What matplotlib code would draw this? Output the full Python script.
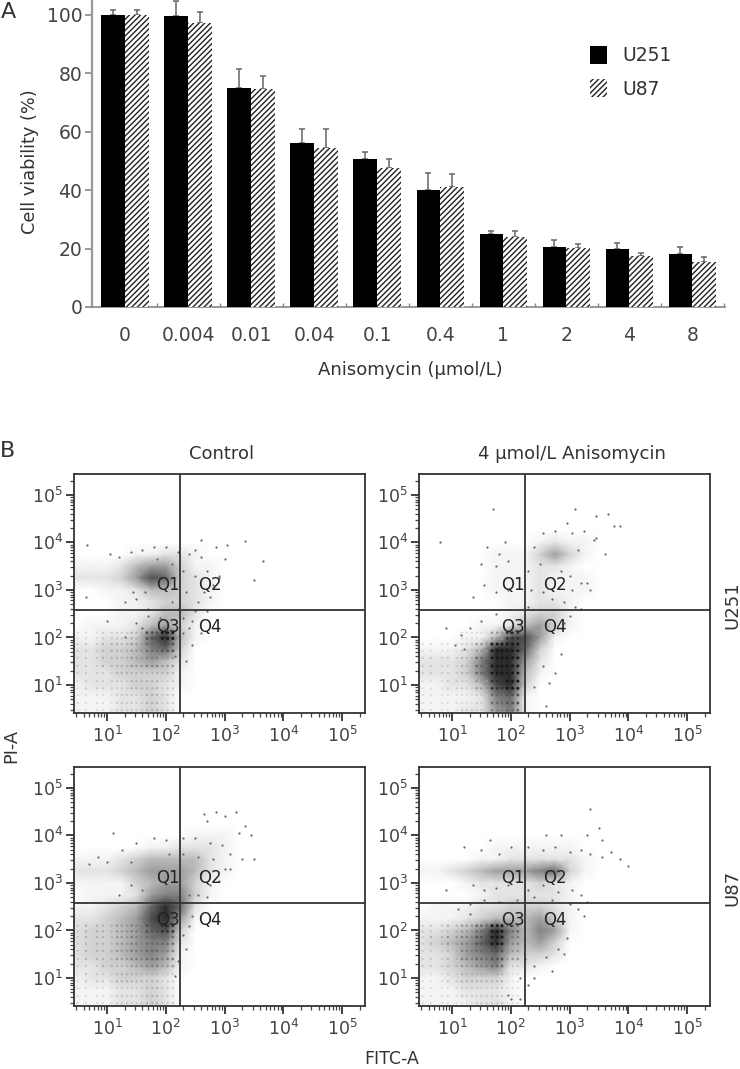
import numpy as np
import matplotlib
matplotlib.use("Agg")
import matplotlib.pyplot as plt
from matplotlib.ticker import LogLocator, FixedLocator, NullFormatter, FuncFormatter

plt.rcParams['font.family'] = ['DejaVu Sans']
plt.rcParams['mathtext.default'] = 'regular'
plt.rcParams['hatch.linewidth'] = 1.0

# ---------- panel A data ----------
doses = ['0', '0.004', '0.01', '0.04', '0.1', '0.4', '1', '2', '4', '8']
u251_mean = [100, 99.5, 75, 56, 50.5, 40, 25, 20.5, 20, 18]
u251_top = [101.5, 104.8, 81.5, 61, 53, 46, 26, 23, 22, 20.5]
u87_mean = [100, 97, 74.5, 54.5, 47.5, 41, 24, 20.3, 17.3, 15.5]
u87_top = [101.5, 101, 79, 61, 50.5, 45.5, 26, 21.5, 18.5, 17]
yticks_a = [0, 20, 40, 60, 80, 100]

# ---------- panel B data: visually read event density (0-9) ----------
# columns: log10(FITC) cells; rows: log10(PI) cells, from top to bottom
log_fitc = [0.44, 0.75, 1.0, 1.25, 1.5, 1.75, 2.0, 2.25, 2.5, 2.75, 3.0, 3.25, 3.5, 3.75]
log_pi = [4.5, 4.25, 4.0, 3.75, 3.5, 3.25, 3.0, 2.75, 2.5, 2.25, 2.0, 1.75, 1.5, 1.25, 1.0, 0.75, 0.41]

density_u251_control = [
    [0,0,0,0,0,0,0,0,0,0,0,0,0,0],
    [0,0,0,0,0,0,0,0,0,0,0,0,0,0],
    [0,0,0,0,0,0,0,0,0,0,0,0,0,0],
    [0,0,0,0,1,1,2,2,1,0,0,0,0,0],
    [1,1,1,2,4,5,5,3,1,1,0,0,0,0],
    [2,2,2,3,5,8,7,3,2,1,0,0,0,0],
    [0,0,1,1,2,4,4,3,2,1,0,0,0,0],
    [0,0,0,1,1,2,3,3,2,1,0,0,0,0],
    [0,0,0,1,1,2,4,4,2,0,0,0,0,0],
    [0,1,1,1,2,4,5,3,1,0,0,0,0,0],
    [1,1,2,2,3,7,9,4,1,0,0,0,0,0],
    [2,2,3,3,4,6,7,3,0,0,0,0,0,0],
    [2,2,3,3,4,5,4,2,0,0,0,0,0,0],
    [2,2,2,3,3,3,3,1,0,0,0,0,0,0],
    [1,2,2,2,3,3,2,1,0,0,0,0,0,0],
    [1,1,1,2,2,3,2,0,0,0,0,0,0,0],
    [1,1,1,2,2,3,2,0,0,0,0,0,0,0],
]
density_u251_drug = [
    [0,0,0,0,0,0,0,0,0,0,0,0,0,0],
    [0,0,0,0,0,0,0,0,0,0,0,0,0,0],
    [0,0,0,0,0,0,0,0,1,2,1,1,0,0],
    [0,0,0,0,0,1,1,1,3,5,3,1,0,0],
    [0,0,0,0,0,1,1,1,2,2,1,0,0,0],
    [0,0,0,0,0,1,1,1,2,1,1,1,0,0],
    [0,0,0,0,0,1,1,1,2,1,1,1,0,0],
    [0,0,0,0,0,0,1,1,2,2,1,0,0,0],
    [0,0,0,0,0,0,1,2,3,3,1,0,0,0],
    [0,0,0,0,1,1,2,4,5,3,1,0,0,0],
    [0,0,0,1,1,4,8,8,5,1,0,0,0,0],
    [1,1,1,2,4,9,9,7,3,0,0,0,0,0],
    [2,2,2,3,6,9,9,5,2,0,0,0,0,0],
    [2,2,2,3,6,9,9,4,1,0,0,0,0,0],
    [1,1,2,2,4,8,9,3,0,0,0,0,0,0],
    [1,1,1,1,2,6,7,1,0,0,0,0,0,0],
    [1,1,1,2,2,5,6,1,0,0,0,0,0,0],
]
density_u87_control = [
    [0,0,0,0,0,0,0,0,0,0,0,0,0,0],
    [0,0,0,0,0,0,0,0,0,0,0,0,0,0],
    [0,0,0,0,0,0,0,0,1,1,1,0,0,0],
    [0,0,0,0,0,1,1,2,2,2,1,0,0,0],
    [1,1,1,2,3,4,4,4,4,2,1,0,0,0],
    [2,2,2,3,4,5,5,5,4,2,1,0,0,0],
    [1,1,1,1,3,4,5,5,3,1,0,0,0,0],
    [0,1,1,1,2,5,6,6,3,1,0,0,0,0],
    [1,1,2,3,4,7,9,7,2,0,0,0,0,0],
    [2,2,3,4,5,8,9,5,1,0,0,0,0,0],
    [2,3,3,4,5,7,8,3,0,0,0,0,0,0],
    [2,3,3,4,5,6,6,2,0,0,0,0,0,0],
    [2,3,3,4,5,6,5,1,0,0,0,0,0,0],
    [2,2,3,3,4,5,4,1,0,0,0,0,0,0],
    [1,2,2,3,3,3,2,0,0,0,0,0,0,0],
    [1,1,1,2,2,3,2,0,0,0,0,0,0,0],
    [1,1,1,2,2,3,2,0,0,0,0,0,0,0],
]
density_u87_drug = [
    [0,0,0,0,0,0,0,0,0,0,0,0,0,0],
    [0,0,0,0,0,0,0,0,0,0,0,0,0,0],
    [0,0,0,0,0,0,0,0,0,0,0,0,0,0],
    [0,0,0,0,0,1,1,1,1,1,1,0,0,0],
    [0,0,0,0,1,1,2,2,2,2,2,1,0,0],
    [1,1,2,3,4,5,5,5,6,7,3,1,0,0],
    [0,0,0,1,2,2,2,2,3,2,1,0,0,0],
    [0,0,0,0,1,2,2,2,2,2,1,0,0,0],
    [0,1,1,1,2,2,3,3,3,2,1,0,0,0],
    [1,1,1,2,3,4,4,4,5,3,1,0,0,0],
    [2,2,3,4,6,9,6,4,6,5,1,0,0,0],
    [2,3,4,5,7,9,5,4,5,3,0,0,0,0],
    [2,2,3,5,6,7,4,3,3,2,0,0,0,0],
    [2,2,3,4,5,6,2,2,1,0,0,0,0,0],
    [1,1,2,3,3,3,1,0,0,0,0,0,0,0],
    [1,1,1,2,2,2,1,0,0,0,0,0,0,0],
    [1,1,1,1,2,2,1,0,0,0,0,0,0,0],
]

# discrete low-intensity acquisition channels seen in the plots (log10)
channel_fitc = [0.5, 0.64, 0.83, 0.93, 1.08, 1.17, 1.25, 1.34, 1.42, 1.5, 1.59, 1.68, 1.77, 1.85, 1.94, 2.03, 2.12]
channel_pi = [0.47, 0.62, 0.79, 0.93, 1.08, 1.25, 1.4, 1.57, 1.72, 1.86, 1.98, 2.1]

# individually read events (log10 FITC, log10 PI)
events_u251_control = [
    (0.66,3.95),(3.05,3.95),(3.35,4.02),(3.65,3.6),(3.5,3.2),(2.6,4.05),(2.5,3.85),(2.85,3.9),(3.0,3.65),
    (2.9,3.3),(2.65,2.95),(2.75,2.85),(2.45,1.85),(1.2,3.7),(1.4,3.8),(1.6,3.85),(1.8,3.9),(2.0,3.9),
    (2.2,3.8),(2.4,3.75),(2.6,3.7),(2.3,3.4),(2.5,3.3),(2.7,3.4),(2.9,3.25),(1.3,2.75),(1.5,2.8),(1.7,2.6),
    (2.1,2.75),(1.6,2.2),(1.9,2.4),(2.3,2.4),(2.5,2.55),(2.7,2.55),(2.4,2.2),(2.6,2.1),(2.15,1.6),(2.35,1.5),
    (1.5,2.3),(1.7,2.45),(1.3,2.0),(1.05,3.75),(2.55,2.75),(2.35,2.95),(2.8,3.1),(1.85,3.65),(2.1,3.55),
    (1.45,2.95),(1.65,2.95),(1.0,2.35),(0.65,2.85),(2.3,2.1),(2.45,2.35),(2.2,2.6),
]
events_u251_drug = [
    (0.8,4.0),(1.7,4.7),(1.9,4.0),(3.1,4.7),(3.45,4.55),(3.65,4.6),(3.75,4.35),(3.85,4.35),(3.45,4.1),(3.6,3.75),
    (3.05,3.0),(3.2,3.15),(3.35,3.0),(0.9,2.2),(1.2,1.75),(2.75,1.25),(3.3,3.15),(3.42,4.05),(1.6,3.9),(1.8,3.75),
    (1.5,3.55),(1.75,3.5),(1.95,3.6),(1.55,3.1),(1.75,2.95),(1.95,3.0),(1.35,2.85),(2.4,3.9),(2.55,4.2),(2.75,4.25),
    (2.95,4.4),(3.05,4.2),(3.25,4.25),(3.15,3.85),(2.3,3.4),(2.5,3.55),(2.85,3.4),(3.0,3.3),(2.35,3.0),(2.55,2.95),
    (2.7,2.8),(2.9,2.75),(3.1,2.65),(3.2,2.6),(2.3,2.65),(1.3,2.2),(1.5,2.35),(1.75,2.5),(2.85,1.65),(2.55,1.4),
    (2.65,1.05),(2.4,0.95),(2.6,0.55),(3.0,2.45),(2.9,2.3),(1.15,2.05),(1.05,1.85),
]
events_u87_control = [
    (1.1,4.05),(2.65,4.45),(2.85,4.5),(3.0,4.4),(3.2,4.5),(3.35,4.2),(3.45,4.0),(3.5,3.5),(3.25,4.05),(2.7,4.3),
    (3.1,3.3),(1.5,3.85),(1.8,3.95),(2.0,3.9),(2.3,3.95),(2.5,3.95),(2.75,3.85),(2.95,3.8),(3.1,3.6),(3.3,3.5),
    (1.25,3.7),(1.4,3.45),(2.05,3.6),(2.3,3.6),(2.55,3.55),(2.8,3.5),(3.0,3.3),(2.9,3.05),(2.75,2.95),(2.6,3.2),
    (2.4,2.75),(2.55,2.75),(2.7,2.7),(1.4,2.95),(1.2,2.75),(1.6,2.85),(2.4,2.1),(2.3,1.9),(2.45,2.3),(2.35,1.6),
    (2.2,1.35),(2.15,1.05),(0.7,3.4),(0.85,3.55),(1.0,3.45),
]
events_u87_drug = [
    (1.65,3.9),(2.6,4.0),(2.85,4.0),(3.35,4.55),(3.5,4.15),(3.7,3.65),(3.85,3.5),(4.0,3.35),(3.3,4.0),(3.55,3.9),
    (2.4,1.0),(0.9,2.85),(3.3,2.6),(1.95,0.65),(1.2,3.75),(1.5,3.7),(1.8,3.6),(2.0,3.75),(2.3,3.75),(2.55,3.7),
    (2.75,3.75),(3.0,3.65),(3.2,3.7),(3.35,3.6),(3.55,3.55),(1.35,2.95),(1.55,2.85),(1.75,2.9),(1.95,2.95),(2.3,2.85),
    (2.55,2.95),(2.8,2.8),(3.05,2.85),(3.2,2.75),(1.3,2.55),(1.55,2.65),(1.8,2.6),(2.1,2.65),(2.4,2.7),(2.7,2.65),
    (3.0,2.55),(3.15,2.45),(3.25,2.3),(1.3,2.35),(1.1,2.45),(2.25,1.4),(2.4,1.25),(2.6,1.45),(2.8,1.6),(2.9,1.5),
    (2.7,1.15),(2.95,1.85),(2.15,1.0),(2.3,0.85),(2.0,0.55),(2.15,0.55),
]

gate_fitc = 175
gate_pi = 380
decade_ticks = [10, 100, 1000, 10000, 100000]

# ---------- layout ----------
W, H = 740, 1069
TEXT = '#333333'
fig = plt.figure(figsize=(W / 100, H / 100), dpi=100)


def axes_px(x0, y0, x1, y1):
    return fig.add_axes([x0 / W, 1 - y1 / H, (x1 - x0) / W, (y1 - y0) / H])


def label_px(x, y, s, **kw):
    kw.setdefault('color', TEXT)
    kw.setdefault('fontsize', 12.8)
    fig.text(x / W, 1 - y / H, s, ha='center', va='center', **kw)


# ---------- panel A ----------
ax = axes_px(92, 0, 725, 307)
x = np.arange(len(doses))
w = 0.375
b1 = ax.bar(x - w / 2, u251_mean, w, color='black', label='U251', zorder=3)
b2 = ax.bar(x + w / 2, u87_mean, w, facecolor='white', edgecolor='#222222', hatch='//////',
            linewidth=0, label='U87', zorder=3)
ax.errorbar(x - w / 2, u251_mean, yerr=[np.zeros(10), np.array(u251_top) - np.array(u251_mean)],
            fmt='none', ecolor='#666666', elinewidth=1.1, capsize=2.5, capthick=1.1, zorder=2)
ax.errorbar(x + w / 2, u87_mean, yerr=[np.zeros(10), np.array(u87_top) - np.array(u87_mean)],
            fmt='none', ecolor='#666666', elinewidth=1.1, capsize=2.5, capthick=1.1, zorder=2)
ax.set_xlim(-0.524, 9.52)
ax.set_ylim(0, 105)
ax.set_yticks(yticks_a)
ax.set_xticks(x)
ax.set_xticklabels(doses)
ax.xaxis.set_minor_locator(FixedLocator(x + 0.5))
ax.tick_params(axis='x', which='major', length=0, pad=14, labelsize=13.5, labelcolor='#444444')
ax.tick_params(axis='x', which='minor', direction='in', length=3, color='#888888', width=1)
ax.tick_params(axis='y', length=5, width=1.2, color='#888888', labelsize=13.5, labelcolor='#444444', pad=2)
for s in ('top', 'right'):
    ax.spines[s].set_visible(False)
ax.spines['left'].set_color('#999999')
ax.spines['left'].set_linewidth(1.6)
ax.spines['bottom'].set_color('#888888')
ax.spines['bottom'].set_linewidth(1.2)
ax.legend(handles=[b1, b2], loc='upper left', bbox_to_anchor=(590 / W, 1 - 46 / H),
          bbox_transform=fig.transFigure, frameon=False, fontsize=13.5, borderpad=0, borderaxespad=0,
          handlelength=0.9, handleheight=1.1, handletextpad=0.8, labelspacing=0.75, labelcolor='#333333')

label_px(30, 162, 'Cell viability (%)', rotation=90)
label_px(410, 370, 'Anisomycin (µmol/L)', fontsize=13)
label_px(8, 12, 'A', fontsize=16)
label_px(8, 451, 'B', fontsize=16)
label_px(222, 454, 'Control', fontsize=13)
label_px(572, 454, '4 µmol/L Anisomycin', fontsize=13)
label_px(11, 746, 'PI-A', rotation=90)
label_px(392, 1059, 'FITC-A', fontsize=12.5)
label_px(732, 605, 'U251', rotation=90, fontsize=13)
label_px(732, 888, 'U87', rotation=90, fontsize=13)


# ---------- panel B ----------
def power_label(v, _pos):
    return r'$10^{%d}$' % round(np.log10(v))


def flow_panel(x0, y0, density, events):
    a = axes_px(x0, y0, x0 + 291, y0 + 239)
    a.set_xscale('log')
    a.set_yscale('log')
    a.set_xlim(10 ** 0.438, 10 ** 5.39)
    a.set_ylim(10 ** 0.41, 10 ** 5.44)
    d = np.array(density, dtype=float)
    fx = np.array(log_fitc)
    fy = np.array(log_pi)
    X, Y = np.meshgrid(10.0 ** fx, 10.0 ** fy)
    a.pcolormesh(X, Y, d, shading='gouraud', cmap='Greys', vmin=0, vmax=10.5, zorder=1)
    # channel lattice: each channel takes the density of its nearest read cell
    cx, cy = np.meshgrid(channel_fitc, channel_pi)
    cx, cy = cx.ravel(), cy.ravel()
    ix = np.abs(cx[:, None] - fx[None, :]).argmin(axis=1)
    iy = np.abs(cy[:, None] - fy[None, :]).argmin(axis=1)
    level = d[iy, ix]
    keep = level > 0
    a.scatter(10.0 ** cx[keep], 10.0 ** cy[keep], s=2 + level[keep] * 0.3, c=level[keep], cmap='Greys',
              vmin=-2, vmax=10, linewidths=0, marker='o', zorder=2)
    ev = np.array(events)
    a.scatter(10.0 ** ev[:, 0], 10.0 ** ev[:, 1], s=2.5, c='#666666', linewidths=0, zorder=2)
    a.axvline(gate_fitc, color='#333333', lw=1.3, zorder=3)
    a.axhline(gate_pi, color='#333333', lw=1.3, zorder=3)
    for xq, yq, s in [(110, 1270, 'Q1'), (570, 1270, 'Q2'), (110, 166, 'Q3'), (570, 166, 'Q4')]:
        a.text(xq, yq, s, ha='center', va='center', fontsize=12, color='#222222', zorder=4)
    for axis in (a.xaxis, a.yaxis):
        axis.set_major_locator(FixedLocator(decade_ticks))
        axis.set_major_formatter(FuncFormatter(power_label))
        axis.set_minor_locator(LogLocator(base=10, subs=np.arange(2, 10), numticks=12))
        axis.set_minor_formatter(NullFormatter())
    a.tick_params(which='major', direction='out', length=6, width=1.3, color='#333333',
                  labelsize=12.5, labelcolor='#444444', pad=2)
    a.tick_params(which='minor', direction='out', length=3, width=0.9, color='#444444')
    a.tick_params(axis='x', which='major', pad=3)
    for sp in a.spines.values():
        sp.set_color('#333333')
        sp.set_linewidth(1.3)


flow_panel(74, 474, density_u251_control, events_u251_control)
flow_panel(419, 474, density_u251_drug, events_u251_drug)
flow_panel(74, 767, density_u87_control, events_u87_control)
flow_panel(419, 767, density_u87_drug, events_u87_drug)

fig.savefig('out.png', dpi=100)
